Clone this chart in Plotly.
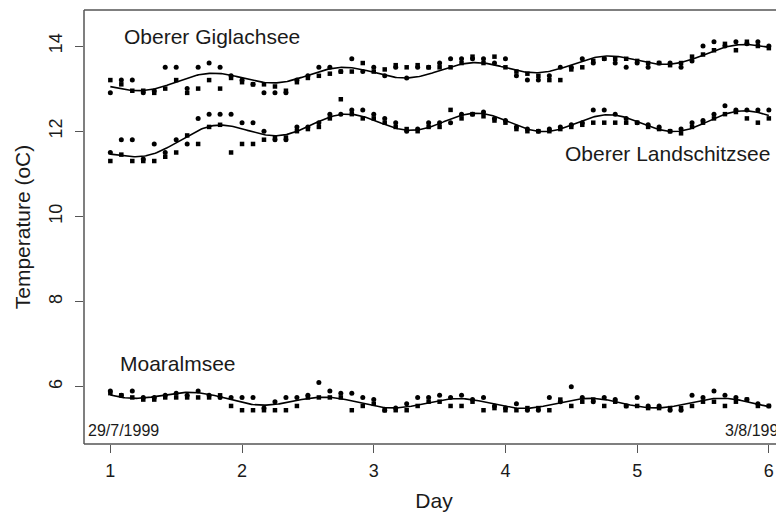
import numpy as np
import plotly.graph_objects as go

# Sampling times: every 2 hours over 5 days (day 1 = 29/7/1999)
hours = np.arange(0, 121, 2)
day = 1 + hours / 24.0

# Oberer Giglachsee
gig_circ = [12.9, 13.2, 13.2, 12.9, 12.95, 13.5, 13.5, 13.0, 13.5, 13.6, 13.5, 13.3, 13.2,
            13.1, 12.9, 12.9, 12.9, 13.2, 13.3, 13.5, 13.5, 13.4, 13.7, 13.4, 13.5, 13.3,
            13.5, 13.25, 13.5, 13.5, 13.6, 13.7, 13.7, 13.7, 13.7, 13.6, 13.7, 13.3, 13.2,
            13.2, 13.3, 13.5, 13.5, 13.7, 13.6, 13.7, 13.6, 13.5, 13.6, 13.5, 13.6, 13.6,
            13.5, 13.65, 14.0, 14.1, 14.0, 14.1, 14.05, 14.1, 14.0]
gig_sq = [13.2, 13.1, 12.95, 12.95, 12.9, 13.0, 13.2, 12.9, 13.0, 13.2, 13.0, 13.25, 13.15,
          13.1, 13.1, 13.05, 12.95, 13.15, 13.25, 13.3, 13.35, 13.4, 13.4, 13.6, 13.4, 13.45,
          13.55, 13.5, 13.55, 13.5, 13.5, 13.5, 13.6, 13.75, 13.6, 13.75, 13.5, 13.4, 13.35,
          13.3, 13.2, 13.2, 13.45, 13.5, 13.65, 13.7, 13.7, 13.7, 13.65, 13.6, 13.6, 13.55,
          13.6, 13.75, 13.8, 13.9, 14.05, 13.9, 14.1, 14.0, 13.95]

# Oberer Landschitzsee
lan_circ = [11.5, 11.8, 11.8, 11.35, 11.7, 11.5, 11.8, 11.7, 12.3, 12.4, 12.4, 12.4, 12.2,
            12.2, 12.0, 11.8, 11.8, 12.1, 12.1, 12.2, 12.4, 12.4, 12.5, 12.5, 12.4, 12.3,
            12.2, 12.0, 12.05, 12.2, 12.2, 12.2, 12.4, 12.4, 12.45, 12.3, 12.25, 12.1, 12.05,
            12.0, 12.05, 12.1, 12.15, 12.2, 12.5, 12.5, 12.4, 12.3, 12.2, 12.15, 12.1, 12.0,
            12.05, 12.2, 12.25, 12.4, 12.6, 12.5, 12.5, 12.5, 12.5]
lan_sq = [11.3, 11.45, 11.3, 11.3, 11.3, 11.4, 11.5, 11.9, 11.7, 12.1, 12.15, 11.5, 11.7,
          11.7, 11.8, 11.85, 11.85, 12.0, 12.05, 12.1, 12.3, 12.75, 12.4, 12.3, 12.3, 12.2,
          12.1, 12.05, 12.0, 12.1, 12.1, 12.5, 12.3, 12.4, 12.35, 12.25, 12.2, 12.05, 12.0,
          12.0, 12.0, 12.05, 12.1, 12.15, 12.2, 12.2, 12.2, 12.2, 12.2, 12.1, 12.05, 12.0,
          11.95, 12.1, 12.2, 12.3, 12.4, 12.45, 12.3, 12.2, 12.3]

# Moaralmsee
moa_circ = [5.9, 5.8, 5.9, 5.75, 5.75, 5.8, 5.85, 5.8, 5.9, 5.8, 5.75, 5.75, 5.75,
            5.75, 5.5, 5.65, 5.75, 5.75, 5.8, 6.1, 5.9, 5.85, 5.85, 5.75, 5.7, 5.45,
            5.5, 5.6, 5.75, 5.75, 5.8, 5.75, 5.8, 5.7, 5.75, 5.55, 5.5, 5.6, 5.45,
            5.45, 5.75, 5.65, 6.0, 5.75, 5.65, 5.75, 5.7, 5.55, 5.75, 5.55, 5.55, 5.45,
            5.45, 5.8, 5.75, 5.9, 5.8, 5.75, 5.7, 5.6, 5.55]
moa_sq = [5.85, 5.8, 5.75, 5.7, 5.7, 5.75, 5.75, 5.75, 5.75, 5.75, 5.8, 5.55, 5.45,
          5.45, 5.45, 5.45, 5.45, 5.55, 5.75, 5.75, 5.75, 5.75, 5.45, 5.55, 5.6, 5.45,
          5.45, 5.45, 5.55, 5.65, 5.65, 5.55, 5.55, 5.65, 5.45, 5.5, 5.45, 5.45, 5.5,
          5.5, 5.45, 5.7, 5.55, 5.65, 5.7, 5.55, 5.65, 5.55, 5.55, 5.5, 5.5, 5.5,
          5.5, 5.55, 5.65, 5.65, 5.55, 5.65, 5.7, 5.55, 5.55]

lakes = [
    ("Oberer Giglachsee", gig_circ, gig_sq),
    ("Oberer Landschitzsee", lan_circ, lan_sq),
    ("Moaralmsee", moa_circ, moa_sq),
]

x_ticks = [1, 2, 3, 4, 5, 6]
y_ticks = [6, 8, 10, 12, 14]
date_start, date_end = "29/7/1999", "3/8/1999"


def smooth_fit(x, y1, y2, xs):
    """Least-squares fit: cubic trend + daily harmonic (as the original smoother)."""
    xx = np.concatenate([x, x])
    yy = np.concatenate([np.asarray(y1), np.asarray(y2)])

    def design(t):
        return np.column_stack([np.ones_like(t), t, t ** 2, t ** 3,
                                np.sin(2 * np.pi * t), np.cos(2 * np.pi * t)])
    coef, *_ = np.linalg.lstsq(design(xx), yy, rcond=None)
    return design(xs) @ coef


xs = np.linspace(day[0], day[-1], 500)

fig = go.Figure()
for name, circ, sq in lakes:
    fig.add_trace(go.Scatter(x=day, y=circ, mode="markers", name=name + " (a)",
                             marker=dict(symbol="circle", size=5, color="black"),
                             showlegend=False))
    fig.add_trace(go.Scatter(x=day, y=sq, mode="markers", name=name + " (b)",
                             marker=dict(symbol="square", size=4.5, color="black"),
                             showlegend=False))
    fig.add_trace(go.Scatter(x=xs, y=smooth_fit(day, circ, sq, xs), mode="lines",
                             line=dict(color="black", width=1.6), showlegend=False))

FONT = "Liberation Sans, Arial, sans-serif"

annots = [
    dict(x=1.089, y=14.225, text="Oberer Giglachsee", xanchor="left", yanchor="middle",
         font=dict(size=21)),
    dict(x=6.024, y=11.465, text="Oberer Landschitzsee", xanchor="right", yanchor="middle",
         font=dict(size=21)),
    dict(x=1.058, y=6.54, text="Moaralmsee", xanchor="left", yanchor="middle",
         font=dict(size=21)),
    dict(x=1.1, y=4.97, text=date_start, xanchor="center", yanchor="middle",
         font=dict(size=16)),
    dict(x=5.9, y=4.97, text=date_end, xanchor="center", yanchor="middle",
         font=dict(size=16)),
]
for a in annots:
    a.update(xref="x", yref="y", showarrow=False)
    a["font"].update(family=FONT, color="#1a1a1a")

box = dict(color="#555555", width=1.5)
# The page adds an 8px body margin, so the figure is 8px smaller and everything
# is laid out 8px up/left of its position in the reference.
fig.update_layout(
    width=776, height=504,
    margin=dict(l=76, r=0, t=2, b=68),
    paper_bgcolor="white", plot_bgcolor="white",
    font=dict(family=FONT, color="#1a1a1a"),
    annotations=annots,
    shapes=[
        dict(type="line", xref="paper", yref="paper", x0=0, x1=0, y0=0, y1=1, line=box),
        dict(type="line", xref="paper", yref="paper", x0=0, x1=1, y0=1, y1=1, line=box),
        dict(type="line", xref="paper", yref="paper", x0=0, x1=1, y0=0, y1=0, line=box),
    ],
    xaxis=dict(range=[0.8, 6.115], tickvals=x_ticks, ticks="outside", ticklen=8,
               tickcolor="#555555", showgrid=False, zeroline=False, showline=False,
               tickfont=dict(size=18), ticklabelstandoff=2,
               title=dict(text="Day", font=dict(size=21), standoff=16)),
    yaxis=dict(range=[4.657, 14.845], tickvals=y_ticks, ticks="outside", ticklen=8,
               tickcolor="#555555", showgrid=False, zeroline=False, showline=False,
               tickangle=-90, tickfont=dict(size=18), ticklabelstandoff=6,
               title=dict(text="Temperature (oC)", font=dict(size=21), standoff=9)),
)

fig.write_html("out.html")
